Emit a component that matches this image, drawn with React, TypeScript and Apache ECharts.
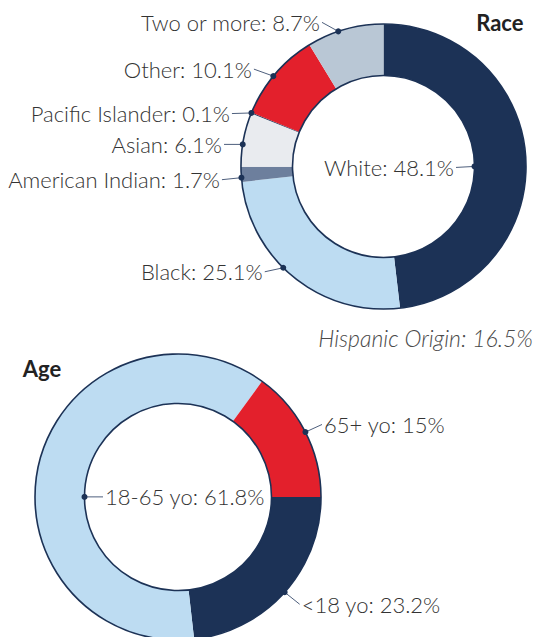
import React, { useEffect, useRef } from "react";
import * as echarts from "echarts";

// ---- data ----
const raceNames = ["White", "Black", "American Indian", "Asian", "Pacific Islander", "Other", "Two or more"];
const raceValues = [48.1, 25.1, 1.7, 6.1, 0.1, 10.1, 8.7];
const ageNames = ["<18 yo", "18-65 yo", "65+ yo"];
const ageValues = [23.2, 61.8, 15];
const hispanicLabel = "Hispanic Origin";
const hispanicValue = 16.5;

// ---- styles / layout ----
const NAVY = "#1c3256";
const RED = "#e3202c";
const LIGHTBLUE = "#bddcf2";
const raceColors = [NAVY, LIGHTBLUE, "#6d7f9d", "#e9ebef", NAVY, RED, "#b9c7d5"];
const ageColors = [NAVY, LIGHTBLUE, RED];

const FONT = "Lato";
const TEXT = "#333333";

const RACE = { cx: 383.5, cy: 166.5, r0: 91, r: 142.5, startAngle: 90 };
const AGE = { cx: 178, cy: 497, r0: 93.5, r: 143, startAngle: 0 };

type Cfg = { frac: number; edge: "inner" | "outer"; dx: number; dy: number; align: "left" | "right" };

const raceLabelCfg: Cfg[] = [
  { frac: 0.519, edge: "inner", dx: -18.5, dy: 1, align: "right" },
  { frac: 0.568, edge: "outer", dx: -18.5, dy: 4, align: "right" },
  { frac: 0.28, edge: "outer", dx: -19.5, dy: 2, align: "right" },
  { frac: 0.41, edge: "outer", dx: -18.7, dy: 0, align: "right" },
  { frac: 0.5, edge: "outer", dx: -19.5, dy: 0.6, align: "right" },
  { frac: 0.47, edge: "outer", dx: -19.4, dy: -7, align: "right" },
  { frac: 0.41, edge: "outer", dx: -16.3, dy: -9, align: "right" },
];
const ageLabelCfg: Cfg[] = [
  { frac: 0.5, edge: "outer", dx: 15, dy: 12, align: "left" },
  { frac: 0.434, edge: "inner", dx: 18.5, dy: 0, align: "left" },
  { frac: 0.5, edge: "outer", dx: 16.6, dy: -7.6, align: "left" },
];

type Geo = { cx: number; cy: number; r0: number; r: number; startAngle: number };

function anchors(values: number[], geo: Geo, cfg: Cfg[]): number[][] {
  const total = values.reduce((a, b) => a + b, 0);
  let acc = 0;
  return values.map((v, i) => {
    const startDeg = geo.startAngle - (acc / total) * 360;
    const span = (v / total) * 360;
    const deg = startDeg - cfg[i].frac * span;
    acc += v;
    const rad = (deg * Math.PI) / 180;
    const rr = cfg[i].edge === "inner" ? geo.r0 : geo.r;
    return [geo.cx + rr * Math.cos(rad), geo.cy - rr * Math.sin(rad)];
  });
}

function makeLayout(anc: number[][], cfg: Cfg[]) {
  return (params: any) => {
    const i = params.dataIndex;
    const a = anc[i];
    const c = cfg[i];
    const end = [a[0] + c.dx, a[1] + c.dy];
    const gap = c.align === "right" ? -2 : 2;
    return {
      x: end[0] + gap,
      y: end[1],
      align: c.align,
      verticalAlign: "middle",
      labelLinePoints: [a, end],
    };
  };
}

function donut(names: string[], values: number[], colors: string[], geo: Geo, cfg: Cfg[]) {
  const anc = anchors(values, geo, cfg);
  const main = {
    type: "pie",
    center: [geo.cx, geo.cy],
    radius: [geo.r0, geo.r],
    startAngle: geo.startAngle,
    clockwise: true,
    avoidLabelOverlap: false,
    silent: true,
    z: 2,
    data: names.map((n, i) => ({ name: n, value: values[i], itemStyle: { color: colors[i] } })),
    label: {
      show: true,
      position: "outside",
      formatter: "{b}: {c}%",
      color: TEXT,
      fontFamily: FONT,
      fontWeight: 300,
      fontSize: 22,
    },
    labelLine: { show: true, smooth: false, lineStyle: { color: "#4e5f7d", width: 1 } },
    labelLayout: makeLayout(anc, cfg),
  };
  const outline = {
    type: "pie",
    center: [geo.cx, geo.cy],
    radius: [geo.r0, geo.r],
    startAngle: geo.startAngle,
    silent: true,
    z: 3,
    data: [{ value: 1, name: "outline" }],
    label: { show: false },
    labelLine: { show: false },
    itemStyle: { color: "rgba(0,0,0,0)", borderColor: NAVY, borderWidth: 1.6 },
  };
  const dots = anc.map((p) => ({
    type: "circle",
    shape: { cx: p[0], cy: p[1], r: 3 },
    style: { fill: NAVY },
    z: 100,
  }));
  return { series: [main, outline], dots };
}

export default function App() {
  const ref = useRef<HTMLDivElement>(null);
  useEffect(() => {
    if (!ref.current) return;
    const chart = echarts.init(ref.current, null, { renderer: "svg" });
    const race = donut(raceNames, raceValues, raceColors, RACE, raceLabelCfg);
    const age = donut(ageNames, ageValues, ageColors, AGE, ageLabelCfg);
    chart.setOption({
      animation: false,
      backgroundColor: "#ffffff",
      series: [...race.series, ...age.series],
      graphic: [
        ...race.dots,
        ...age.dots,
        {
          type: "text",
          x: 523.5,
          y: 22.7,
          z: 100,
          style: {
            text: "Race",
            fontFamily: FONT,
            fontWeight: "bold",
            fontSize: 22,
            fill: "#222222",
            align: "right",
            verticalAlign: "middle",
          },
        },
        {
          type: "text",
          x: 22.7,
          y: 368.4,
          z: 100,
          style: {
            text: "Age",
            fontFamily: FONT,
            fontWeight: "bold",
            fontSize: 22,
            fill: "#222222",
            align: "left",
            verticalAlign: "middle",
          },
        },
        {
          type: "text",
          x: 533,
          y: 338.3,
          z: 100,
          style: {
            text: `${hispanicLabel}: ${hispanicValue}%`,
            fontFamily: FONT,
            fontWeight: 300,
            fontStyle: "italic",
            fontSize: 23,
            fill: "#4a4a4a",
            align: "right",
            verticalAlign: "middle",
          },
        },
      ],
    });
    return () => chart.dispose();
  }, []);
  return (
    <div
      ref={ref}
      style={{ position: "fixed", left: 0, top: 0, width: 536, height: 637 }}
    />
  );
}
